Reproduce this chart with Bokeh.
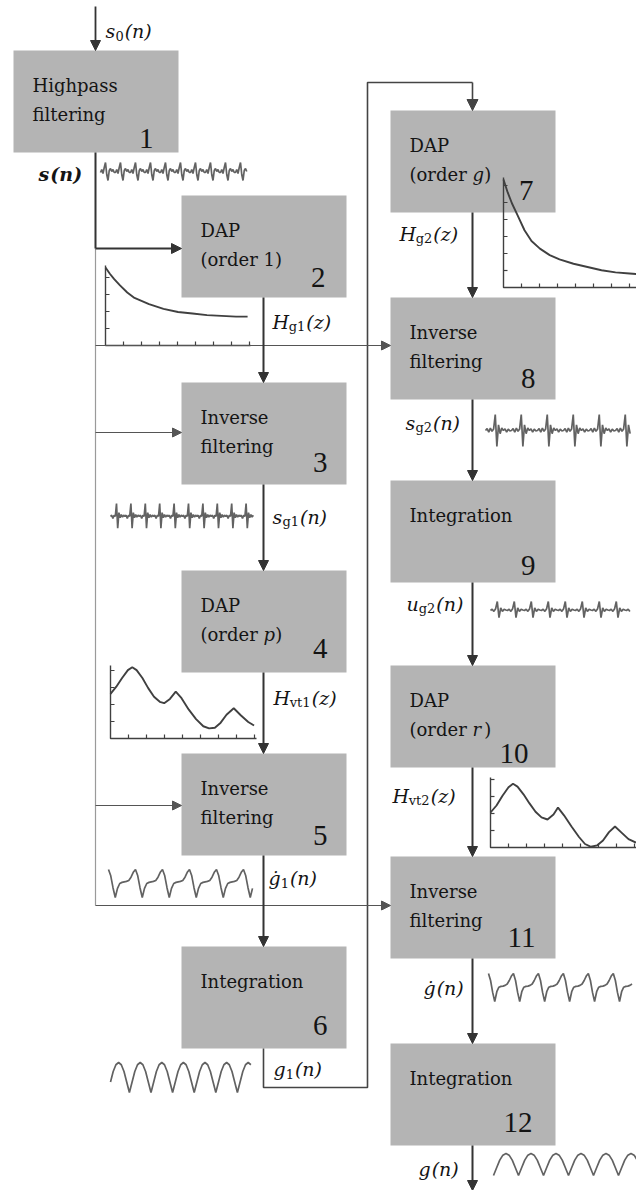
import numpy as np
from bokeh.plotting import figure
from bokeh.models import Range1d, Arrow, NormalHead, ColumnDataSource
from bokeh.core.properties import value
from bokeh.embed import file_html
from bokeh.resources import INLINE

# ======================= DATA =======================
box_number = ["1", "2", "3", "4", "5", "6", "7", "8", "9", "10", "11", "12"]
box_title = ["Highpass", "DAP", "Inverse", "DAP", "Inverse", "Integration",
             "DAP", "Inverse", "Integration", "DAP", "Inverse", "Integration"]
box_subtitle = ["filtering", "(order ", "filtering", "(order ", "filtering", "",
                "(order ", "filtering", "", "(order ", "filtering", ""]
box_order = ["", "1", "", "p", "", "", "g", "", "", "r", "", ""]

signal_symbol = ["s", "s", "H", "s", "H", "ġ", "g", "H", "s", "u", "H", "ġ", "g"]
signal_index = ["0", "", "g1", "g1", "vt1", "1", "1", "g2", "g2", "g2", "vt2", "", ""]
signal_arg = ["(n)", "(n)", "(z)", "(n)", "(z)", "(n)", "(n)", "(z)", "(n)", "(n)", "(z)", "(n)", "(n)"]

# one period of each sketched waveform (normalised amplitude)
s_cycle = [0.0, 0.3, -0.1, 0.5, 1.0, -0.2, -0.8, 0.2, 0.4, 0.1, 0.3, 0.0]
sg1_cycle = [0.0, 0.1, -0.15, 0.1, 0.0, 1.0, -0.9, 0.3, -0.1, 0.15, -0.05, 0.1]
sg2_cycle = [0.0, 0.12, -0.1, 0.15, -0.05, 0.1, 1.0, -1.0, 0.35, -0.2, 0.15, 0.0, 0.1, -0.1, 0.08, -0.02]
ug2_cycle = [0.0, 0.15, -0.1, 0.2, 1.0, -0.8, 0.3, -0.1, 0.15, 0.05]
dg1_cycle = [1.0, 0.55, -0.3, -1.0, -0.35, 0.0, 0.08, 0.12, 0.15, 0.22, 0.45, 0.8]
dg_cycle = [1.0, 0.5, -0.35, -1.0, -0.3, 0.02, 0.08, 0.1, 0.15, 0.25, 0.5, 0.82]
g1_cycle = [-0.3, 0.4, 0.85, 1.0, 0.85, 0.4, -0.3, -1.0]
g_cycle = [-1.0, -0.3, 0.4, 0.85, 1.0, 0.85, 0.4, -0.3]

# DAP responses drawn in the small plots
hg1_t = [0, .03, .06, .10, .15, .20, .30, .40, .50, .60, .70, .80, .90, .98]
hg1_v = [1.0, .92, .85, .77, .68, .61, .53, .47, .43, .41, .39, .38, .37, .37]
hg2_t = [0, .03, .06, .10, .15, .20, .26, .33, .40, .50, .60, .70, .80, .90, 1.0]
hg2_v = [1.0, .88, .78, .67, .53, .43, .36, .30, .26, .22, .19, .16, .14, .13, .12]
hvt1_t = [0, .04, .08, .12, .15, .18, .22, .26, .30, .34, .37, .41, .45, .49, .54, .59, .64, .68, .72, .76, .80, .85, .90, .95, .99]
hvt1_v = [.62, .72, .84, .95, .99, .95, .84, .70, .58, .51, .49, .55, .65, .56, .40, .27, .17, .14, .15, .22, .33, .42, .32, .23, .18]
hvt2_t = [0, .04, .08, .12, .15, .18, .22, .26, .30, .34, .38, .42, .45, .49, .54, .59, .63, .67, .71, .75, .79, .83, .87, .92, .97]
hvt2_v = [.50, .60, .74, .86, .91, .87, .76, .63, .51, .43, .40, .47, .57, .46, .30, .15, .05, .01, .03, .10, .22, .30, .22, .12, .07]

# ======================= LAYOUT / STYLE =======================
BOX_W, BOX_H = 165, 102
box_left = [13, 181, 181, 181, 181, 181, 390, 390, 390, 390, 390, 390]
box_top = [50, 195, 382, 570, 753, 946, 110, 297, 480, 665, 856, 1043]
num_dx = [140, 144, 146, 146, 146, 146, 143, 145, 145, 138, 145, 142]
num_cy = [88, 82, 80, 78, 82, 79, 80, 81, 85, 88, 81, 79]

sig_x = [105, 38, 272, 272, 273, 268, 273, 399, 405, 406, 392, 423, 418]
sig_y = [30, 173, 321, 516, 697, 877, 1068, 233, 422, 603, 795, 987, 1168]
sig_bold = [False, True] + [False] * 11

BOX_FILL = "#b4b4b4"
TEXT = "#141414"
FLOW = "#333333"
FEED_V = "#9a9a9a"
FEED_H = "#555555"
WAVE = "#626262"
PLOT_C = "#404040"
SERIF = "DejaVu Serif"

W, H = 636, 1190
p = figure(width=W, height=H, x_range=Range1d(0, W), y_range=Range1d(H, 0),
           output_backend="svg", toolbar_location=None, min_border=0,
           x_axis_location=None, y_axis_location=None)
p.xgrid.visible = False
p.ygrid.visible = False
p.outline_line_color = None
p.background_fill_color = "white"
p.border_fill_color = "white"

bl = np.array(box_left, dtype=float)
bt = np.array(box_top, dtype=float)
cx = bl + 82
bb = bt + BOX_H

# ---------- boxes ----------
p.quad(left=bl, right=bl + BOX_W, top=bt, bottom=bb, fill_color=BOX_FILL, line_color=None)


def txt(xs, ys, texts, size, style="normal", align="left", font=SERIF, color=TEXT):
    src = ColumnDataSource(dict(x=list(xs), y=list(ys), t=list(texts)))
    p.text(x="x", y="y", text="t", source=src, text_font=value(font), text_font_size=size,
           text_font_style=style, text_align=align, text_baseline="middle", text_color=color)


L1, L2 = 35, 64
txt(bl + 19, bt + L1, box_title, "18px")
plain_idx = [i for i in range(12) if box_subtitle[i] and box_order[i] in ("", "1")]
txt([bl[i] + 19 for i in plain_idx], [bt[i] + L2 for i in plain_idx],
    [box_subtitle[i] + (box_order[i] + ")" if box_order[i] else "") for i in plain_idx], "18px")
ital_idx = [i for i in range(12) if box_order[i] not in ("", "1")]
W_ORDER = 3.498 * 18
W_LET = 0.60 * 18
txt([bl[i] + 19 for i in ital_idx], [bt[i] + L2 for i in ital_idx], [box_subtitle[i] for i in ital_idx], "18px")
txt([bl[i] + 19 + W_ORDER for i in ital_idx], [bt[i] + L2 for i in ital_idx], [box_order[i] for i in ital_idx],
    "18px", style="italic")
txt([bl[i] + 19 + W_ORDER + W_LET + 1 for i in ital_idx], [bt[i] + L2 for i in ital_idx], [")"] * len(ital_idx), "18px")
txt(bl + np.array(num_dx), bt + np.array(num_cy), box_number, "29px", align="right", font="Liberation Serif")

# ---------- connectors ----------
FEED_Y = [bt[2] + 50, bt[4] + 52, bt[7] + 48, bt[10] + 49]   # boxes 3, 5, 8, 11
FEED_X_END = [bl[2], bl[4], bl[7], bl[10]]
split_y = bt[1] + 53
LOOP_Y_LOW, LOOP_X, LOOP_Y_TOP = 1087, 367, 82

p.line([cx[0], cx[0]], [split_y, FEED_Y[3]], line_color=FEED_V, line_width=1.2)
arrows = []
for fy, fx in zip(FEED_Y, FEED_X_END):
    arrows.append((cx[0], fy, fx, fy, FEED_H, 1.2, 9))

p.line([cx[0], cx[0]], [bb[0], split_y], line_color=FLOW, line_width=2)
arrows.append((cx[0], 6, cx[0], bt[0], FLOW, 1.8, 10))
arrows.append((cx[0], split_y, bl[1], split_y, FLOW, 2, 10))
for i in list(range(1, 5)) + list(range(6, 11)):
    arrows.append((cx[i], bb[i], cx[i], bt[i + 1], FLOW, 2, 10))
arrows.append((cx[11], bb[11], cx[11], 1190, FLOW, 2, 10))
p.line([cx[5], cx[5], LOOP_X, LOOP_X, cx[6]], [bb[5], LOOP_Y_LOW, LOOP_Y_LOW, LOOP_Y_TOP, LOOP_Y_TOP],
       line_color="#444444", line_width=1.6)
arrows.append((cx[6], LOOP_Y_TOP, cx[6], bt[6], "#444444", 1.6, 11))

for (x0, y0, x1, y1, c, lw, sz) in arrows:
    p.add_layout(Arrow(x_start=x0, y_start=y0, x_end=x1, y_end=y1, line_color=c, line_width=lw,
                       end=NormalHead(size=sz, fill_color=c, line_color=c, line_width=1)))


# ---------- mini plots ----------
def mini_plot(t, v, x0, yb, w, h, top, right):
    xs = x0 + np.array(t) * w
    ys = yb - np.array(v) * h
    p.line([x0, x0, right], [top, yb, yb], line_color=PLOT_C, line_width=1.4)
    tx = np.arange(x0 + 18, right, 18)
    p.segment(x0=tx, y0=[yb] * len(tx), x1=tx, y1=[yb - 4] * len(tx), line_color=PLOT_C, line_width=1.2)
    ty = np.arange(yb - 17, top, -17)
    p.segment(x0=[x0] * len(ty), y0=ty, x1=[x0 + 4] * len(ty), y1=ty, line_color=PLOT_C, line_width=1.2)
    p.line(xs, ys, line_color=PLOT_C, line_width=1.9)


mini_plot(hg1_t, hg1_v, 105, 345, 145, 78, 265, 250)
mini_plot(hg2_t, hg2_v, 503, 287, 140, 108, 177, 645)
mini_plot(hvt1_t, hvt1_v, 110, 738, 145, 72, 665, 256)
mini_plot(hvt2_t, hvt2_v, 490, 847, 150, 70, 777, 645)

# ---------- waveforms ----------
waves = [  # cycle, samples, x0, dx, centre y, amplitude
    (s_cycle, 118, 100, 1.25, 172, 10),
    (sg1_cycle, 120, 110, 1.2, 516, 13),
    (sg2_cycle, 90, 485, 1.625, 430, 16),
    (ug2_cycle, 83, 490, 1.7, 610, 9),
    (dg1_cycle, 65, 108, 2.25, 883, 14),
    (dg_cycle, 70, 488, 2.08, 987, 14),
    (g1_cycle, 53, 110, 2.7, 1077, 15),
    (g_cycle, 48, 493, 3.125, 1164, 11),
]
for cyc, n, x0, dx, yc, amp in waves:
    vals = np.resize(np.array(cyc, dtype=float), n)
    xs = x0 + np.arange(n) * dx
    p.line(xs, yc - vals * amp, line_color=WAVE, line_width=1.7)

# ---------- signal labels ----------
ADV_IT = {"s": 0.52, "H": 0.85, "g": 0.64, "ġ": 0.64, "u": 0.64}
ADV_SUB = {"0": 0.636, "1": 0.636, "2": 0.636, "g": 0.64, "v": 0.59, "t": 0.40}
MAIN_SZ, SUB_SZ = 19, 13
for bold in (False, True):
    idx = [i for i in range(13) if sig_bold[i] == bold]
    style = "bold italic" if bold else "italic"
    base = [sig_y[i] for i in idx]
    w_main = [ADV_IT[signal_symbol[i]] * MAIN_SZ * (1.1 if bold else 1.0) for i in idx]
    w_sub = [sum(ADV_SUB[c] for c in signal_index[i]) * SUB_SZ for i in idx]
    txt([sig_x[i] for i in idx], base, [signal_symbol[i] for i in idx], f"{MAIN_SZ}px", style=style)
    txt([sig_x[i] + w_main[k] for k, i in enumerate(idx)], [b + 5 for b in base],
        [signal_index[i] for i in idx], f"{SUB_SZ}px", style="bold" if bold else "normal")
    txt([sig_x[i] + w_main[k] + w_sub[k] + 1 for k, i in enumerate(idx)], base,
        [signal_arg[i] for i in idx], f"{MAIN_SZ}px", style=style)

open("out.html", "w").write(file_html(p, INLINE))
